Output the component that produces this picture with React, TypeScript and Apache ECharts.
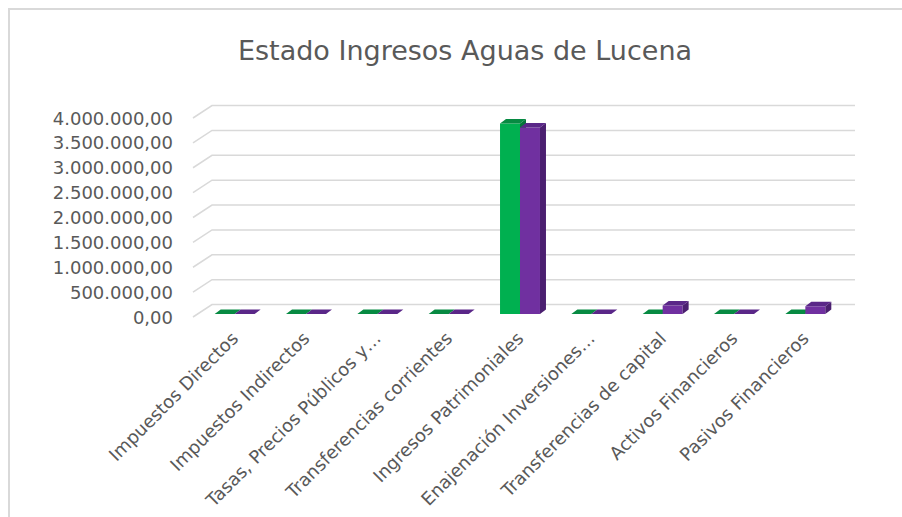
import React, { useEffect, useRef } from "react";
import * as echarts from "echarts";

const chartTitle = "Estado Ingresos Aguas de Lucena";
const categories = [
  "Impuestos Directos",
  "Impuestos Indirectos",
  "Tasas, Precios Públicos y…",
  "Transferencias corrientes",
  "Ingresos Patrimoniales",
  "Enajenación Inversiones…",
  "Transferencias de capital",
  "Activos Financieros",
  "Pasivos Financieros",
];
const serie1 = [0, 0, 0, 0, 3830000, 0, 0, 0, 0];
const serie2 = [0, 0, 0, 0, 3750000, 0, 170000, 0, 155000];
const yTicks = [0, 500000, 1000000, 1500000, 2000000, 2500000, 3000000, 3500000, 4000000];

const FONT = "DejaVu Sans";
const TEXT = "#595959";

function fmt(v: number): string {
  const [i, d] = v.toFixed(2).split(".");
  const g = i.replace(/\B(?=(\d{3})+(?!\d))/g, ".");
  return g + "," + d;
}

const palettes = [
  { front: "#00B050", top: "#078A42", side: "#05763A" },
  { front: "#7030A0", top: "#5A2788", side: "#4B1F70" },
];

function barRenderer(si: number) {
  return (params: any, api: any) => {
    const idx = api.value(0);
    const v = api.value(1);
    const base = api.coord([idx, 0]);
    const top = api.coord([idx, v]);
    const bw = api.size([1, 0])[0] * 0.28;
    const x0 = base[0] + (si === 0 ? -bw : 0);
    const yb = base[1] - 3;
    const yt = top[1] - 3;
    const dx = 6;
    const dy = -4.5;
    const c = palettes[si];
    const children: any[] = [];
    if (yb - yt > 0.5) {
      children.push({
        type: "rect",
        shape: { x: x0, y: yt, width: bw, height: yb - yt },
        style: { fill: c.front },
      });
      children.push({
        type: "polygon",
        shape: { points: [[x0 + bw, yt], [x0 + bw + dx, yt + dy], [x0 + bw + dx, yb + dy], [x0 + bw, yb]] },
        style: { fill: c.side },
      });
    }
    children.push({
      type: "polygon",
      shape: { points: [[x0, yt], [x0 + bw, yt], [x0 + bw + dx, yt + dy], [x0 + dx, yt + dy]] },
      style: { fill: c.top },
    });
    return { type: "group", children };
  };
}

export default function App() {
  const ref = useRef<HTMLDivElement>(null);
  useEffect(() => {
    if (!ref.current) return;
    const chart = echarts.init(ref.current, undefined, { renderer: "svg" });
    chart.setOption({
      animation: false,
      backgroundColor: "#ffffff",
      title: {
        text: chartTitle,
        left: 460,
        top: 32,
        textAlign: "center",
        textStyle: { fontFamily: FONT, fontSize: 27, fontWeight: "normal", color: TEXT },
      },
      graphic: [
        {
          type: "rect",
          shape: { x: 9, y: 9, width: 1000, height: 1000 },
          style: { fill: "none", stroke: "#d9d9d9", lineWidth: 2 },
          silent: true,
        },
      ],
      grid: { left: 199, right: 61, top: 118, bottom: 200, containLabel: false },
      xAxis: {
        type: "category",
        data: categories,
        axisLine: { show: false },
        axisTick: { show: false },
        splitLine: { show: false },
        axisLabel: {
          interval: 0,
          rotate: 45,
          margin: 18,
          color: TEXT,
          fontFamily: FONT,
          fontSize: 18,
        },
      },
      yAxis: {
        type: "value",
        min: 0,
        max: 4000000,
        interval: 500000,
        axisLine: { show: false },
        axisTick: { show: false },
        splitLine: { show: false },
        axisLabel: {
          margin: 26,
          color: TEXT,
          fontFamily: FONT,
          fontSize: 18,
          formatter: (v: number) => fmt(v),
        },
      },
      series: [
        {
          type: "custom",
          name: "grid",
          silent: true,
          z: 1,
          data: yTicks.map((v) => [0, v]),
          encode: { x: 0, y: 1 },
          renderItem: (params: any, api: any) => {
            const cs = params.coordSys;
            const y = api.coord([0, api.value(1)])[1];
            return {
              type: "polyline",
              shape: {
                points: [
                  [cs.x - 6, y],
                  [cs.x + 13, y - 12.5],
                  [cs.x + cs.width + 14, y - 12.5],
                ],
              },
              style: { stroke: "#d9d9d9", lineWidth: 1.5, fill: "none" },
            };
          },
        },
        {
          type: "custom",
          name: "Serie 1",
          z: 2,
          data: serie1.map((v, i) => [i, v]),
          encode: { x: 0, y: 1 },
          renderItem: barRenderer(0),
        },
        {
          type: "custom",
          name: "Serie 2",
          z: 3,
          data: serie2.map((v, i) => [i, v]),
          encode: { x: 0, y: 1 },
          renderItem: barRenderer(1),
        },
      ],
    });
    return () => chart.dispose();
  }, []);
  return (
    <div
      ref={ref}
      style={{ position: "absolute", left: 0, top: 0, width: 902, height: 517 }}
    />
  );
}
